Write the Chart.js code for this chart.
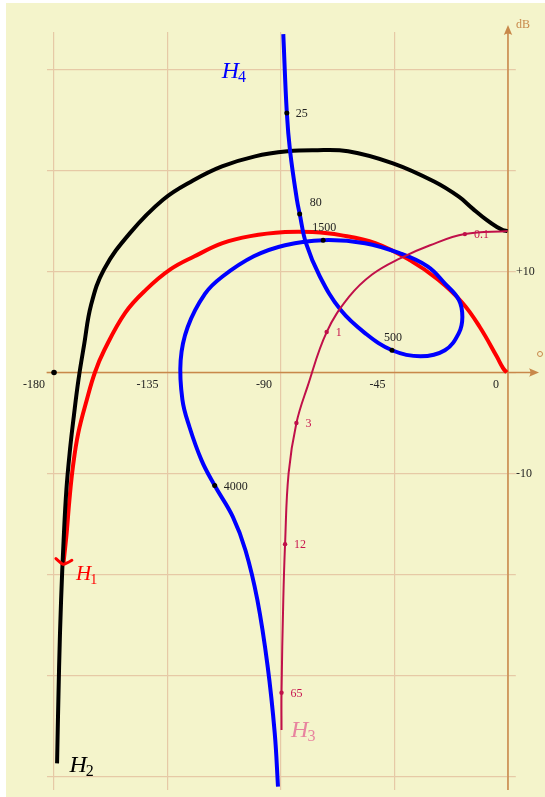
<!DOCTYPE html>
<html>
<head>
<meta charset="utf-8">
<script src="https://cdn.jsdelivr.net/npm/chart.js@4.4.1/dist/chart.umd.min.js"></script>
<style>
  html, body { margin: 0; padding: 0; background: #fff; }
  #wrap { width: 545px; height: 797px; }
</style>
</head>
<body>
<div id="wrap"><canvas id="nichols" width="545" height="797"></canvas></div>
<script>
// Nichols plot: phase in degrees, gain in dB
const phaseTicks = [-180, -135, -90, -45, 0];
const phaseLabels = ['-180', '-135', '-90', '-45', '0'];
const gainTicks = [-40, -30, -20, -10, 0, 10, 20, 30];
const gainLabelValues = [10, -10];
const gainLabels = ['+10', '-10'];

const critPhase = [-180];
const critGain = [0];

// H1 (red), starting at the arrow end
const h1Phase = [-176.3, -175.0, -173.9, -172.5, -170.4, -167.0, -163.8, -160.1, -151.8, -143.5, -133.9, -124.3, -113.2, -102.2, -88.4, -77.4, -66.4, -52.6, -38.8, -27.8, -18.1, -11.2, -4.5, -1.9, -0.5];
const h1Gain = [-19.0, -15.9, -12.6, -9.3, -6.0, -2.7, 0.0, 2.2, 5.9, 8.2, 10.2, 11.5, 12.8, 13.5, 13.9, 13.9, 13.6, 12.8, 11.1, 9.2, 6.9, 4.5, 1.6, 0.4, 0.0];

// H2 (black)
const h2Phase = [-178.8, -178.0, -177.2, -176.2, -175.1, -173.7, -172.1, -170.3, -168.1, -165.3, -160.2, -149.9, -136.8, -124.9, -113.4, -100.3, -87.2, -77.3, -63.4, -45.6, -29.3, -19.5, -13.9, -8.5, -4.4, -2.0, -0.2];
const h2Gain = [-38.7, -29.2, -22.5, -16.6, -11.6, -7.7, -4.2, -0.7, 2.7, 6.7, 10.2, 13.8, 17.1, 19.0, 20.4, 21.4, 21.9, 22.0, 21.9, 20.7, 18.9, 17.4, 16.2, 15.1, 14.4, 14.1, 14.0];

// H3 (crimson, thin)
const h3Phase = [-0.2, -17.1, -30.9, -42.8, -53.9, -63.0, -71.9, -79.5, -83.9, -87.0, -88.4, -89.1, -89.8, -89.8];
const h3Gain = [14.0, 13.7, 12.6, 11.3, 9.7, 7.5, 4.0, -1.4, -5.0, -10.0, -17.0, -22.5, -31.7, -35.4];
const h3MarkPhase = [-17.1, -71.9, -83.9, -88.4, -89.8];
const h3MarkGain = [13.7, 4.0, -5.0, -17.0, -31.7];
const h3MarkLabels = ['0.1', '1', '3', '12', '65'];

// H4 (blue, loops)
const h4Phase = [-89.1, -87.7, -86.4, -83.7, -82.6, -80.1, -74.6, -66.4, -56.7, -46.0, -34.7, -25.0, -19.5, -18.1, -19.5, -25.0, -31.9, -42.9, -56.7, -73.3, -88.4, -100.8, -113.2, -120.1, -127.0, -129.8, -129.1, -126.3, -121.5, -116.3, -109.1, -104.1, -99.4, -95.3, -92.5, -91.2];
const h4Gain = [33.5, 25.7, 21.9, 17.1, 15.7, 12.8, 9.5, 6.2, 3.9, 2.2, 1.6, 2.2, 3.9, 5.5, 7.2, 8.8, 10.5, 11.8, 12.8, 13.1, 12.6, 11.5, 9.5, 7.8, 4.5, 1.2, -2.7, -5.4, -8.7, -11.2, -14.3, -17.6, -22.5, -29.1, -35.7, -41.0];
const h4MarkPhase = [-87.7, -82.6, -46.0, -73.3, -116.3];
const h4MarkGain = [25.7, 15.7, 2.2, 13.1, -11.2];
const h4MarkLabels = ['25', '80', '500', '1500', '4000'];

// curve names, placed in data coords
const nameText = ['H', 'H', 'H', 'H'];
const nameSub = ['1', '2', '3', '4'];
const namePhase = [-171.3, -173.9, -86.0, -113.5];
const nameGain = [-20.5, -39.6, -36.1, 29.2];

const h4LabelPos = ['right', 'aboveRight', 'above', 'above', 'right'];
const h3LabelPos = ['right', 'right', 'right', 'right', 'right'];

const axisColor = '#c8884a';
const gridColor = '#e6c9a6';
const serif = "'Liberation Serif', 'DejaVu Serif', serif";

const toXY = (px, py) => px.map((p, i) => ({ x: p, y: py[i] }));

function arrowHead(c, tx, ty, dx, dy, len, half) {
  const bx = tx - dx * len, by = ty - dy * len;
  const nx = -dy, ny = dx;
  c.beginPath();
  c.moveTo(tx, ty);
  c.lineTo(bx + nx * half, by + ny * half);
  c.quadraticCurveTo(tx - dx * len * 0.7, ty - dy * len * 0.7, bx - nx * half, by - ny * half);
  c.closePath();
  c.fill();
}

function drawMarkLabels(c, meta, labels, pos, color) {
  c.fillStyle = color;
  c.font = '12px ' + serif;
  c.textBaseline = 'middle';
  meta.data.forEach((pt, i) => {
    let tx = pt.x + 9, ty = pt.y + 1, align = 'left';
    if (pos[i] === 'above') { tx = pt.x + 1; ty = pt.y - 12; align = 'center'; }
    if (pos[i] === 'aboveRight') { tx = pt.x + 10; ty = pt.y - 11; }
    c.textAlign = align;
    c.fillText(labels[i], tx, ty);
  });
}

const decor = {
  id: 'decor',
  beforeDraw(chart) {
    const c = chart.ctx;
    c.save();
    c.fillStyle = '#ffffff';
    c.fillRect(0, 0, chart.width, chart.height);
    c.fillStyle = '#f4f4cb';
    c.fillRect(6, 3, 539, 794);
    c.restore();
  },
  beforeDatasetsDraw(chart) {
    const { ctx: c, scales: { x, y }, chartArea: a } = chart;
    const x0 = x.getPixelForValue(0), y0 = y.getPixelForValue(0);
    c.save();
    c.strokeStyle = axisColor;
    c.fillStyle = axisColor;
    c.lineWidth = 1.5;
    c.beginPath();
    c.moveTo(a.left, y0); c.lineTo(x0 + 24, y0);
    c.moveTo(x0, a.bottom); c.lineTo(x0, a.top - 1);
    c.stroke();
    arrowHead(c, x0 + 31, y0, 1, 0, 10, 4.2);
    arrowHead(c, x0, a.top - 7, 0, -1, 10, 4.2);
    // degree mark and dB unit
    c.lineWidth = 1;
    c.beginPath();
    c.arc(x0 + 32, y0 - 18.5, 2.5, 0, Math.PI * 2);
    c.stroke();
    c.font = '12px ' + serif;
    c.textBaseline = 'middle';
    c.textAlign = 'left';
    c.fillText('dB', x0 + 8, a.top - 7);
    // tick labels
    c.fillStyle = '#222';
    c.textAlign = 'right';
    phaseTicks.forEach((v, i) => {
      c.fillText(phaseLabels[i], x.getPixelForValue(v) - 9, y0 + 12);
    });
    c.textAlign = 'left';
    gainLabelValues.forEach((v, i) => {
      c.fillText(gainLabels[i], x0 + 8, y.getPixelForValue(v) + 0.5);
    });
    c.restore();
  },
  afterDatasetsDraw(chart) {
    const c = chart.ctx;
    const { x, y } = chart.scales;
    c.save();
    // arrow tip on H1
    const red = chart.getDatasetMeta(0).data;
    const p0 = red[0], p1 = red[1];
    let dx = p0.x - p1.x, dy = p0.y - p1.y;
    const d = Math.hypot(dx, dy); dx /= d; dy /= d;
    const nx = -dy, ny = dx;
    c.strokeStyle = '#ff0000';
    c.lineWidth = 3;
    c.lineCap = 'round';
    c.beginPath();
    c.moveTo(p0.x - dx * 5 + nx * 8, p0.y - dy * 5 + ny * 8);
    c.quadraticCurveTo(p0.x - dx * 0.5 + nx * 2, p0.y - dy * 0.5 + ny * 2, p0.x, p0.y);
    c.quadraticCurveTo(p0.x - dx * 0.5 - nx * 2, p0.y - dy * 0.5 - ny * 2, p0.x - dx * 5 - nx * 8, p0.y - dy * 5 - ny * 8);
    c.stroke();

    drawMarkLabels(c, chart.getDatasetMeta(5), h4MarkLabels, h4LabelPos, '#222');
    drawMarkLabels(c, chart.getDatasetMeta(6), h3MarkLabels, h3LabelPos, '#c8154f');

    // curve names
    const nameColor = ['#ff0000', '#000000', '#e8849f', '#0000ff'];
    c.textAlign = 'left';
    c.textBaseline = 'alphabetic';
    nameText.forEach((t, i) => {
      const px = x.getPixelForValue(namePhase[i]);
      const py = y.getPixelForValue(nameGain[i]);
      const big = i === 0 ? 21 : 24;
      c.fillStyle = nameColor[i];
      c.font = 'italic ' + big + 'px ' + serif;
      c.fillText(t, px, py);
      const w = c.measureText(t).width;
      c.font = Math.round(big * 0.68) + 'px ' + serif;
      c.fillText(nameSub[i], px + w - 1, py + 4);
    });
    c.restore();
  }
};

const lineBase = { showLine: true, pointRadius: 0, tension: 0.4, borderCapStyle: 'butt', borderJoinStyle: 'round' };

new Chart(document.getElementById('nichols'), {
  type: 'scatter',
  data: {
    datasets: [
      { ...lineBase, label: 'H1', data: toXY(h1Phase, h1Gain), borderColor: '#ff0000', borderWidth: 4, order: 5 },
      { ...lineBase, label: 'H2', data: toXY(h2Phase, h2Gain), borderColor: '#000000', borderWidth: 4, order: 4 },
      { ...lineBase, label: 'H4', data: toXY(h4Phase, h4Gain), borderColor: '#0000ff', borderWidth: 4, order: 3 },
      { ...lineBase, label: 'H3', data: toXY(h3Phase, h3Gain), borderColor: '#c0104a', borderWidth: 2, order: 2 },
      { label: 'crit', data: toXY(critPhase, critGain), pointRadius: 2.8, backgroundColor: '#000', borderWidth: 0, order: 1 },
      { label: 'H4 marks', data: toXY(h4MarkPhase, h4MarkGain), pointRadius: 2.5, backgroundColor: '#000', borderWidth: 0, order: 0 },
      { label: 'H3 marks', data: toXY(h3MarkPhase, h3MarkGain), pointRadius: 2.2, backgroundColor: '#c0104a', borderWidth: 0, order: 0 }
    ]
  },
  options: {
    responsive: false,
    animation: false,
    devicePixelRatio: 1,
    layout: { padding: { left: 46.6, right: 29.2, top: 32, bottom: 7 } },
    plugins: { legend: { display: false }, tooltip: { enabled: false } },
    scales: {
      x: {
        type: 'linear', min: -182.95, max: 3.09,
        afterBuildTicks: s => { s.ticks = phaseTicks.map(v => ({ value: v })); },
        ticks: { display: false },
        grid: { color: gridColor, lineWidth: 1.2, drawTicks: false },
        border: { display: false }
      },
      y: {
        type: 'linear', min: -41.34, max: 33.71,
        afterBuildTicks: s => { s.ticks = gainTicks.map(v => ({ value: v })); },
        ticks: { display: false },
        grid: { color: gridColor, lineWidth: 1.2, drawTicks: false },
        border: { display: false }
      }
    }
  },
  plugins: [decor]
});
</script>
</body>
</html>
